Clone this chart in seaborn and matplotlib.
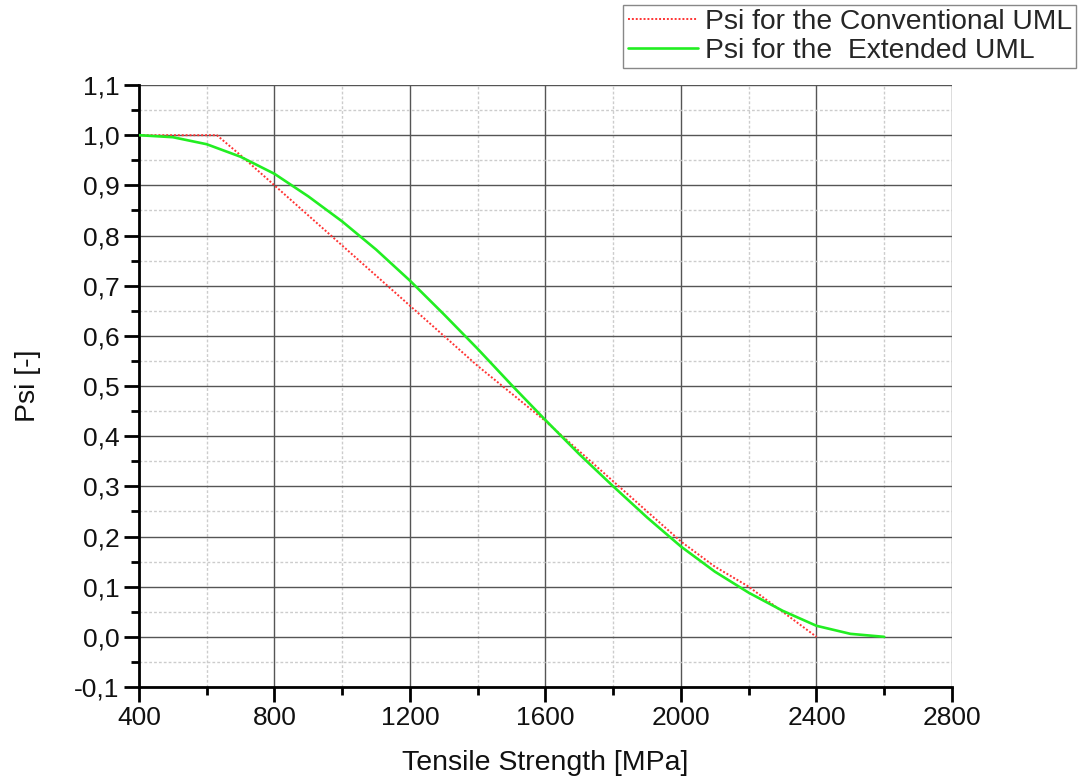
import numpy as np
import pandas as pd
import matplotlib
matplotlib.use("Agg")
import matplotlib.pyplot as plt
from matplotlib.ticker import MultipleLocator, FuncFormatter
import seaborn as sns

# Tensile strength [MPa] and Psi values for both models
strength_conv = [400, 630, 700, 800, 900, 1000, 1100, 1200, 1300, 1400, 1500,
                 1600, 1700, 1800, 1900, 2000, 2100, 2200, 2300, 2400]
psi_conv = [1.0, 1.0, 0.96, 0.90, 0.84, 0.78, 0.72, 0.66, 0.60, 0.54, 0.485,
            0.43, 0.37, 0.31, 0.25, 0.19, 0.14, 0.10, 0.05, 0.0]

strength_ext = [400, 500, 600, 700, 800, 900, 1000, 1100, 1200, 1300, 1400, 1500,
                1600, 1700, 1800, 1900, 2000, 2100, 2200, 2300, 2400, 2500, 2600]
psi_ext = [1.0, 0.996, 0.982, 0.957, 0.923, 0.878, 0.828, 0.772, 0.710, 0.643,
           0.574, 0.502, 0.432, 0.364, 0.300, 0.238, 0.180, 0.130, 0.088, 0.052,
           0.022, 0.006, 0.0]

label_conv = "Psi for the Conventional UML"
label_ext = "Psi for the  Extended UML"

sns.set_theme(style="white")
plt.rcParams["font.family"] = ["Liberation Sans", "DejaVu Sans"]

fig = plt.figure(figsize=(10.84, 7.83), dpi=100)
ax = fig.add_axes([0.1282, 0.1226, 0.75, 0.7688])

df_conv = pd.DataFrame({"x": strength_conv, "y": psi_conv})
df_ext = pd.DataFrame({"x": strength_ext, "y": psi_ext})

sns.lineplot(data=df_conv, x="x", y="y", ax=ax, color="#ff3333", lw=1.4,
             linestyle=(0, (1, 1)), label=label_conv, sort=False, zorder=3)
sns.lineplot(data=df_ext, x="x", y="y", ax=ax, color="#22ee22", lw=1.9,
             label=label_ext, sort=False, zorder=4)

ax.set_xlim(400, 2800)
ax.set_ylim(-0.1, 1.1)
ax.xaxis.set_major_locator(MultipleLocator(400))
ax.xaxis.set_minor_locator(MultipleLocator(200))
ax.yaxis.set_major_locator(MultipleLocator(0.1))
ax.yaxis.set_minor_locator(MultipleLocator(0.05))
ax.yaxis.set_major_formatter(FuncFormatter(lambda v, p: f"{v:.1f}".replace(".", ",").replace("-0,0", "0,0")))

ax.grid(True, which="major", color="#555555", lw=1.0, ls="-")
ax.grid(True, which="minor", color="#cccccc", lw=1.0, ls=(0, (2, 1.5)))
ax.set_axisbelow(True)

for s in ["top", "right"]:
    ax.spines[s].set_visible(False)
for s in ["left", "bottom"]:
    ax.spines[s].set_color("black")
    ax.spines[s].set_linewidth(2)

ax.tick_params(which="major", direction="out", length=11, width=2, color="black",
               labelsize=19, labelcolor="#111111", pad=3)
ax.tick_params(which="minor", direction="out", length=6, width=2, color="black")
ax.tick_params(axis="x", which="both", bottom=True)
ax.tick_params(axis="y", which="both", left=True)

ax.set_xlabel("Tensile Strength [MPa]", fontsize=20.5, labelpad=14, color="#111111")
ax.set_ylabel("Psi [-]", fontsize=20.5, labelpad=24, color="#111111")

ax.get_legend().remove()
handles, labels = ax.get_legend_handles_labels()
leg = fig.legend(handles, labels, loc="upper right", bbox_to_anchor=(0.993, 0.994),
                 fontsize=20.3, frameon=True, fancybox=False, edgecolor="#888888",
                 framealpha=1, borderpad=0.15, handlelength=2.5, handletextpad=0.25,
                 labelspacing=0.1, borderaxespad=0)
leg.get_frame().set_linewidth(1.0)

fig.savefig("out.png", dpi=100)
